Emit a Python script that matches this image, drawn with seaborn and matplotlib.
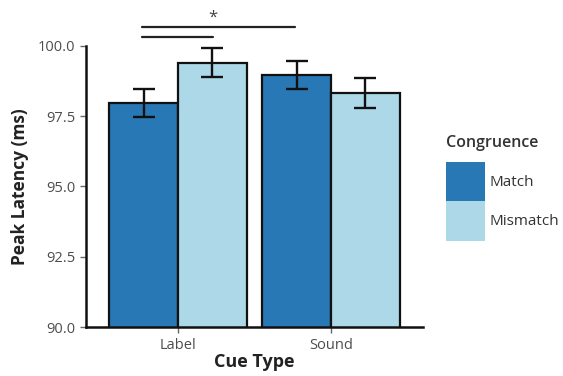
import pandas as pd
import seaborn as sns
import matplotlib
matplotlib.use('Agg')
from matplotlib import pyplot as plt
from matplotlib.patches import Patch

cue_types = ['Label', 'Sound']
congruence = ['Match', 'Mismatch']
latency_match = [97.97, 98.95]
latency_mismatch = [99.40, 98.33]
se_match = [0.50, 0.50]
se_mismatch = [0.52, 0.54]
y_ticks = [90.0, 92.5, 95.0, 97.5, 100.0]

sns.set_theme(style='ticks')
plt.rcParams['font.family'] = ['Open Sans', 'DejaVu Sans']

dataset = pd.DataFrame({
    'cue': cue_types * 2,
    'cong': ['Match'] * 2 + ['Mismatch'] * 2,
    'lat': latency_match + latency_mismatch,
    'se': se_match + se_mismatch,
})
colors = {'Match': '#2878b5', 'Mismatch': '#add8e8'}

fig = plt.figure(figsize=(5.63, 3.76), dpi=100)
ax = fig.add_axes([0.153, 0.130, 0.598, 0.748])
sns.barplot(data=dataset, x='cue', y='lat', hue='cong', order=cue_types,
            hue_order=congruence, palette=colors, width=0.9, errorbar=None,
            edgecolor='#111111', linewidth=1.6, saturation=1, legend=False,
            ax=ax)

# error bars on the bar centres
for bar, (_, row) in zip(ax.patches, dataset.iterrows()):
    xc = bar.get_x() + bar.get_width() / 2
    ax.errorbar(xc, row['lat'], yerr=row['se'], color='#111111',
                capsize=8, elinewidth=1.7, capthick=1.7, clip_on=False,
                zorder=5)

ax.set_xlim(-0.6, 1.6)
ax.set_ylim(90, 100)
ax.set_yticks(y_ticks)
ax.set_yticklabels([f'{t:.1f}' for t in y_ticks])

# significance brackets
ax.plot([-0.235, 0.765], [100.68, 100.68], color='#222222', lw=1.6,
        clip_on=False)
ax.plot([-0.235, 0.23], [100.32, 100.32], color='#222222', lw=1.6,
        clip_on=False)
ax.text(0.23, 100.72, '*', ha='center', va='bottom', fontsize=12,
        color='#444444')

sns.despine(ax=ax)
ax.spines['left'].set_linewidth(1.8)
ax.spines['bottom'].set_linewidth(1.8)
ax.spines['left'].set_color('#111111')
ax.spines['bottom'].set_color('#111111')
ax.tick_params(axis='both', colors='#666666', labelcolor='#4d4d4d',
               labelsize=10.5, length=4, width=1, pad=4)

ax.set_xlabel('Cue Type', fontsize=13, fontweight='bold', color='#222222',
              labelpad=0)
ax.set_ylabel('Peak Latency (ms)', fontsize=12.5, fontweight='bold',
              color='#222222', labelpad=6)

handles = [Patch(facecolor=colors[c], edgecolor='none') for c in congruence]
leg = ax.legend(handles, congruence, title='Congruence', frameon=False,
                loc='center left', bbox_to_anchor=(1.037, 0.495),
                handlelength=2.55, handleheight=3.6, labelspacing=0,
                handletextpad=0.3, fontsize=11, title_fontsize=11.5,
                borderpad=0.2, alignment='left')
leg.get_title().set_fontweight('semibold')
leg.get_title().set_color('#333333')
leg._legend_box.sep = 8
for t in leg.get_texts():
    t.set_color('#333333')

plt.savefig('out.png', dpi=100)
